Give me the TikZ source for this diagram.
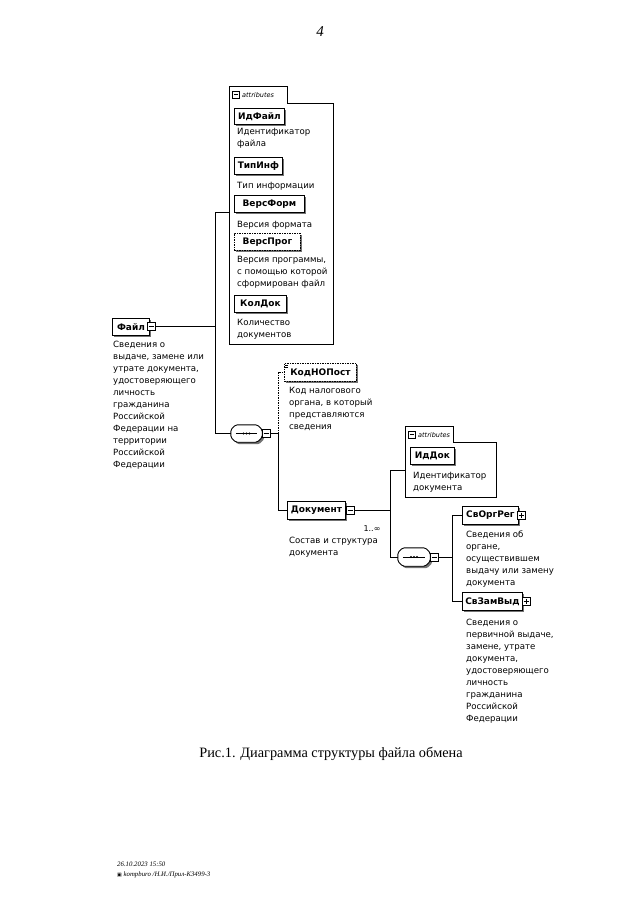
\documentclass[tikz,border=0pt]{standalone}
\usepackage{fontspec}
\setmainfont{DejaVu Sans}
\newfontfamily\capfont{Liberation Serif}
\usetikzlibrary{shadows,calc}
\tikzset{
 shad/.style={drop shadow={shadow xshift=2pt,shadow yshift=-2pt,fill=black!55,opacity=1}},
 elem/.style={draw, line width=0.9pt, fill=white, inner sep=0pt, anchor=north west,
   font=\bfseries\fontsize{9}{10}\selectfont, shad},
 opt/.style={dash pattern=on 1.5pt off 1pt},
 desc/.style={anchor=north west, align=left, inner sep=0pt, font=\fontsize{8.6}{12}\selectfont,
   execute at begin node=\strut},
 conn/.style={line width=0.8pt},
 expbox/.style={draw, fill=white, line width=0.6pt, minimum size=8pt, inner sep=0pt},
 attbox/.style={draw, line width=0.8pt, fill=white},
 attlbl/.style={anchor=base west, inner sep=0pt, font=\itshape\fontsize{6.5}{8}\selectfont},
 seqbox/.style={minimum width=31pt, minimum height=17pt, inner sep=0pt},
}
\newcommand\seqdraw[1]{%
 \draw[line width=0.9pt, fill=white, rounded corners=1.5pt, shad]
  ($(#1.north west)+(5,0)$) -- ($(#1.north east)+(-5,0)$) -- ($(#1.north east)+(0,5)$)
  -- ($(#1.south east)+(0,-5)$) -- ($(#1.south east)+(-5,0)$) -- ($(#1.south west)+(5,0)$)
  -- ($(#1.south west)+(0,-5)$) -- ($(#1.north west)+(0,5)$) -- cycle;
 \draw[line width=0.6pt] ($(#1.west)+(5,0)$) -- ($(#1.east)+(-5,0)$);
 \foreach \d in {-3,0,3} \fill ($(#1.center)+(\d,0)$) circle (1.1pt);
}
\newcommand\minusin[1]{\draw[line width=0.6pt] ($(#1.west)+(1.8,0)$) -- ($(#1.east)+(-1.8,0)$);}
\newcommand\plusin[1]{\minusin{#1}\draw[line width=0.6pt] ($(#1.north)+(0,1.8)$) -- ($(#1.south)+(0,-1.8)$);}
\begin{document}
\begin{tikzpicture}[x=1pt,y=-1pt]
\useasboundingbox (0,0) rectangle (640,922);
\fill[white] (0,0) rectangle (640,922);

% page number
\node[font=\capfont\itshape\fontsize{15}{15}\selectfont] (pnum) at (320,32) {4};

% ---------- attributes group 1 ----------
\draw[attbox] (229,344) -- (229,86) -- (287,86) -- (287,103) -- (333,103) -- (333,344) -- cycle;
\coordinate (att1w) at (229,212);
\node[expbox, minimum size=7pt] (att1ic) at (236,94.5) {};
\minusin{att1ic}
\node[attlbl] (att1lbl) at (242,97) {attributes};

\node[elem, minimum width=50, minimum height=16] (idfile) at (234,108) {ИдФайл};
\node[desc] (idfiled) at (237,127.6) {Идентификатор\\файла};
\node[elem, minimum width=48, minimum height=17] (tipinf) at (234,157) {ТипИнф};
\node[desc] (tipinfd) at (237,179.6) {Тип информации};
\node[elem, minimum width=70, minimum height=17] (versform) at (234,195) {ВерсФорм};
\node[desc] (versformd) at (237,218.6) {Версия формата};
\node[elem, opt, minimum width=66, minimum height=17] (versprog) at (234,233) {ВерсПрог};
\node[desc] (versprogd) at (237,255.6) {Версия программы,\\с помощью которой\\сформирован файл};
\node[elem, minimum width=52, minimum height=17] (koldok) at (234,295) {КолДок};
\node[desc] (koldokd) at (237,318.6) {Количество\\документов};

% ---------- root ----------
\node[elem, minimum width=37, minimum height=17] (file) at (112,318) {Файл};
\node[expbox] (fileexp) at (151,326.5) {};
\minusin{fileexp}
\node[desc] (filed) at (113,340.6) {Сведения о\\выдаче, замене или\\утрате документа,\\удостоверяющего\\личность\\гражданина\\Российской\\Федерации на\\территории\\Российской\\Федерации};

% ---------- sequence 1 ----------
\node[seqbox] (seq1) at (246.5,433.5) {};
\seqdraw{seq1}
\node[expbox] (seq1exp) at (266,433.5) {};
\minusin{seq1exp}

\coordinate (b1) at (215,0);
\draw[conn] (fileexp.east) -- (fileexp.east -| b1);
\draw[conn] (b1 |- att1w) -- (att1w);
\draw[conn] (b1 |- att1w) -- (b1 |- seq1.west) -- (seq1.west);

% ---------- КодНОПост ----------
\node[elem, opt, minimum width=72, minimum height=18] (kodno) at (284,363) {КодНОПост};
\draw[line width=0.6pt] (284.5,365.5) -- (288,365.5) (284.5,367.5) -- (288,367.5);
\node[desc] (kodnod) at (289,386.6) {Код налогового\\органа, в который\\представляются\\сведения};

% ---------- Документ ----------
\node[elem, minimum width=58, minimum height=18] (dok) at (287,501) {Документ};
\node[expbox] (dokexp) at (350,510) {};
\minusin{dokexp}
\node[font=\fontsize{8}{9}\selectfont, inner sep=0pt] (dokocc) at (372,529) {1..∞};
\node[desc] (dokd) at (289,536.6) {Состав и структура\\документа};

\coordinate (b2) at (278,0);
\draw[conn] (seq1exp.east) -- (seq1exp.east -| b2);
\draw[conn, opt] (seq1exp.east -| b2) -- (b2 |- kodno.west) -- (kodno.west);
\draw[conn] (seq1exp.east -| b2) -- (b2 |- dok.west) -- (dok.west);

% ---------- attributes group 2 ----------
\draw[attbox] (405,497) -- (405,426) -- (453,426) -- (453,442) -- (496,442) -- (496,497) -- cycle;
\coordinate (att2w) at (405,470);
\node[expbox, minimum size=7pt] (att2ic) at (412,434.5) {};
\minusin{att2ic}
\node[attlbl] (att2lbl) at (418,437) {attributes};
\node[elem, minimum width=44, minimum height=17] (iddok) at (410,447) {ИдДок};
\node[desc] (iddokd) at (413,471.6) {Идентификатор\\документа};

% ---------- sequence 2 ----------
\node[seqbox, minimum width=32pt, minimum height=18pt] (seq2) at (414,557) {};
\seqdraw{seq2}
\node[expbox] (seq2exp) at (434,557) {};
\minusin{seq2exp}

\coordinate (b3) at (390,0);
\draw[conn] (dokexp.east) -- (dokexp.east -| b3);
\draw[conn] (b3 |- att2w) -- (att2w);
\draw[conn] (b3 |- att2w) -- (b3 |- seq2.west) -- (seq2.west);

% ---------- children of sequence 2 ----------
\node[elem, minimum width=56, minimum height=18] (svorg) at (462,506) {СвОргРег};
\node[expbox] (svorgexp) at (521,515) {};
\plusin{svorgexp}
\node[desc] (svorgd) at (466,530.6) {Сведения об\\органе,\\осуществившем\\выдачу или замену\\документа};

\node[elem, minimum width=60, minimum height=18] (svzam) at (462,592) {СвЗамВыд};
\node[expbox] (svzamexp) at (526,601) {};
\plusin{svzamexp}
\node[desc] (svzamd) at (466,618.6) {Сведения о\\первичной выдаче,\\замене, утрате\\документа,\\удостоверяющего\\личность\\гражданина\\Российской\\Федерации};

\coordinate (b4) at (452,0);
\draw[conn] (seq2exp.east) -- (seq2exp.east -| b4);
\draw[conn] (b4 |- svorg.west) -- (b4 |- svzam.west);
\draw[conn] (b4 |- svorg.west) -- (svorg.west);
\draw[conn] (b4 |- svzam.west) -- (svzam.west);

% ---------- caption and footer ----------
\node[anchor=base, inner sep=0pt, font=\capfont\fontsize{14.3}{16}\selectfont] (cap) at (331,757) {Рис.1. Диаграмма структуры файла обмена};
\node[anchor=base west, inner sep=0pt, align=left, font=\capfont\itshape\fontsize{6.8}{9.5}\selectfont] (foot) at (117,876) {26.10.2023 15:50\\{\normalfont\fontsize{5}{6}\selectfont ▣} kompburo /Н.И./Прил-К3499-3};
\end{tikzpicture}
\end{document}
